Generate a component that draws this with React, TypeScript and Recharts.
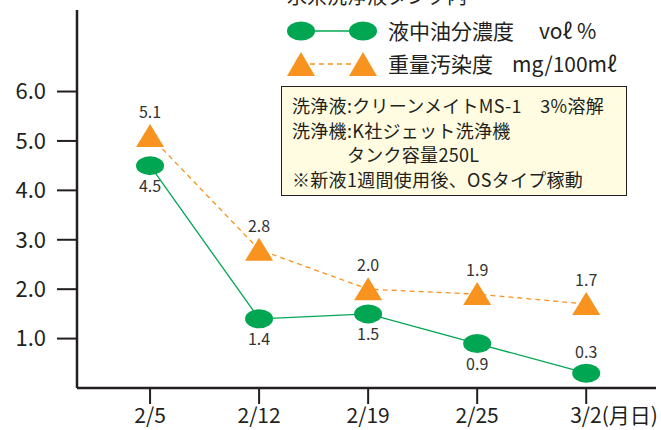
import { LineChart, Line, XAxis, YAxis, LabelList } from 'recharts'

const categories = ['2/5', '2/12', '2/19', '2/25', '3/2']
const dateUnit = '(月日)'
const oilConcentration = [4.5, 1.4, 1.5, 0.9, 0.3]
const contamination = [5.1, 2.8, 2.0, 1.9, 1.7]
const oilLabelSide = ['below', 'below', 'below', 'below', 'above']
const yTicks = [1, 2, 3, 4, 5, 6]

const oilName = '液中油分濃度'
const oilUnit = 'voℓ %'
const dirtName = '重量汚染度'
const dirtUnit = 'mg/100mℓ'
const title = '水系洗浄液タンク内'
const notes = [
  '洗浄液:クリーンメイトMS-1　3%溶解',
  '洗浄機:K社ジェット洗浄機',
  '　　　タンク容量250L',
  '※新液1週間使用後、OSタイプ稼動',
]

const GREEN = '#00a651'
const ORANGE = '#f7931e'
const INK = '#231f20'
const FONT = '"Noto Sans CJK JP", "Noto Sans", sans-serif'

const data = categories.map((c, i) => ({
  idx: i,
  cat: c,
  oil: oilConcentration[i],
  dirt: contamination[i],
}))

const Ellipse = ({ cx, cy }: any) => (
  <ellipse key={`e-${cx}-${cy}`} cx={cx} cy={cy} rx={14} ry={9.5} fill={GREEN} />
)

const Triangle = ({ cx, cy }: any) => (
  <polygon
    key={`t-${cx}-${cy}`}
    points={`${cx},${cy - 12} ${cx + 14},${cy + 11} ${cx - 14},${cy + 11}`}
    fill={ORANGE}
  />
)

const XTick = ({ x, y, payload }: any) => {
  const i = payload.value as number
  const label = categories[i]
  if (i === categories.length - 1) {
    return (
      <text x={x - 16} y={y} dy="0.8em" textAnchor="start" fontSize={21} fill={INK} fontFamily={FONT}>
        {label + dateUnit}
      </text>
    )
  }
  return (
    <text x={x} y={y} dy="0.8em" textAnchor="middle" fontSize={21} fill={INK} fontFamily={FONT}>
      {label}
    </text>
  )
}

const oilLabel = (p: any) => {
  const above = oilLabelSide[p.index] === 'above'
  return (
    <text
      x={p.x}
      y={above ? p.y - 15 : p.y + 26}
      textAnchor="middle"
      fontSize={16}
      fill="#333"
      fontFamily={FONT}
    >
      {Number(p.value).toFixed(1)}
    </text>
  )
}

const dirtLabel = (p: any) => (
  <text x={p.x} y={p.y - 18} textAnchor="middle" fontSize={16} fill="#333" fontFamily={FONT}>
    {Number(p.value).toFixed(1)}
  </text>
)

export default function App() {
  return (
    <div style={{ position: 'absolute', left: 0, top: 0, width: 661, height: 430, background: '#fff', fontFamily: FONT }}>
      <LineChart width={661} height={430} data={data} margin={{ top: 10, right: 5, left: 0, bottom: 0 }}>
        <XAxis
          dataKey="idx"
          type="number"
          domain={[-0.67, 4.64]}
          ticks={[0, 1, 2, 3, 4]}
          allowDataOverflow
          height={42}
          tickSize={16}
          tickMargin={2}
          tick={<XTick />}
          axisLine={{ stroke: INK, strokeWidth: 2.5 }}
          tickLine={{ stroke: INK, strokeWidth: 2 }}
        />
        <YAxis
          domain={[0, 7.65]}
          ticks={yTicks}
          tickFormatter={(v: number) => v.toFixed(1)}
          width={77}
          tickSize={20}
          tickMargin={11}
          tick={{ fontSize: 22, fill: INK, fontFamily: FONT }}
          axisLine={{ stroke: INK, strokeWidth: 2.5 }}
          tickLine={{ stroke: INK, strokeWidth: 2 }}
        />
        <Line
          dataKey="dirt"
          stroke={ORANGE}
          strokeWidth={1.3}
          strokeDasharray="5 4"
          dot={<Triangle />}
          activeDot={false}
          isAnimationActive={false}
        >
          <LabelList dataKey="dirt" content={dirtLabel} />
        </Line>
        <Line
          dataKey="oil"
          stroke={GREEN}
          strokeWidth={1.3}
          dot={<Ellipse />}
          activeDot={false}
          isAnimationActive={false}
        >
          <LabelList dataKey="oil" content={oilLabel} />
        </Line>
      </LineChart>

      <svg width={661} height={430} style={{ position: 'absolute', left: 0, top: 0, pointerEvents: 'none' }}>
        <text x={287} y={4} fontSize={20} fill={INK} fontFamily={FONT}>{title}</text>
        <line x1={301} y1={31} x2={363} y2={31} stroke={GREEN} strokeWidth={1.5} />
        <ellipse cx={301} cy={31} rx={14} ry={9.5} fill={GREEN} />
        <ellipse cx={363} cy={31} rx={14} ry={9.5} fill={GREEN} />
        <text x={388} y={39} fontSize={21} fill={INK} fontFamily={FONT}>{oilName}</text>
        <text x={539} y={39} fontSize={21} fill={INK} fontFamily={FONT}>{oilUnit}</text>
        <line x1={310} y1={64} x2={352} y2={64} stroke={ORANGE} strokeWidth={1.5} strokeDasharray="5 4" />
        <polygon points="301,52 315,76 287,76" fill={ORANGE} />
        <polygon points="363,52 377,76 349,76" fill={ORANGE} />
        <text x={388} y={72} fontSize={21} fill={INK} fontFamily={FONT}>{dirtName}</text>
        <text x={512} y={72} fontSize={21} fill={INK} fontFamily={FONT}>{dirtUnit}</text>
      </svg>

      <div
        style={{
          position: 'absolute',
          left: 281,
          top: 86,
          width: 346,
          height: 110,
          boxSizing: 'border-box',
          border: `1.5px solid ${INK}`,
          background: '#fffce1',
          padding: '6px 0 0 10px',
          fontSize: 18,
          lineHeight: '24.5px',
          letterSpacing: '0.3px',
          color: INK,
          whiteSpace: 'pre',
        }}
      >
        {notes.map((n) => (
          <div key={n}>{n}</div>
        ))}
      </div>
    </div>
  )
}
